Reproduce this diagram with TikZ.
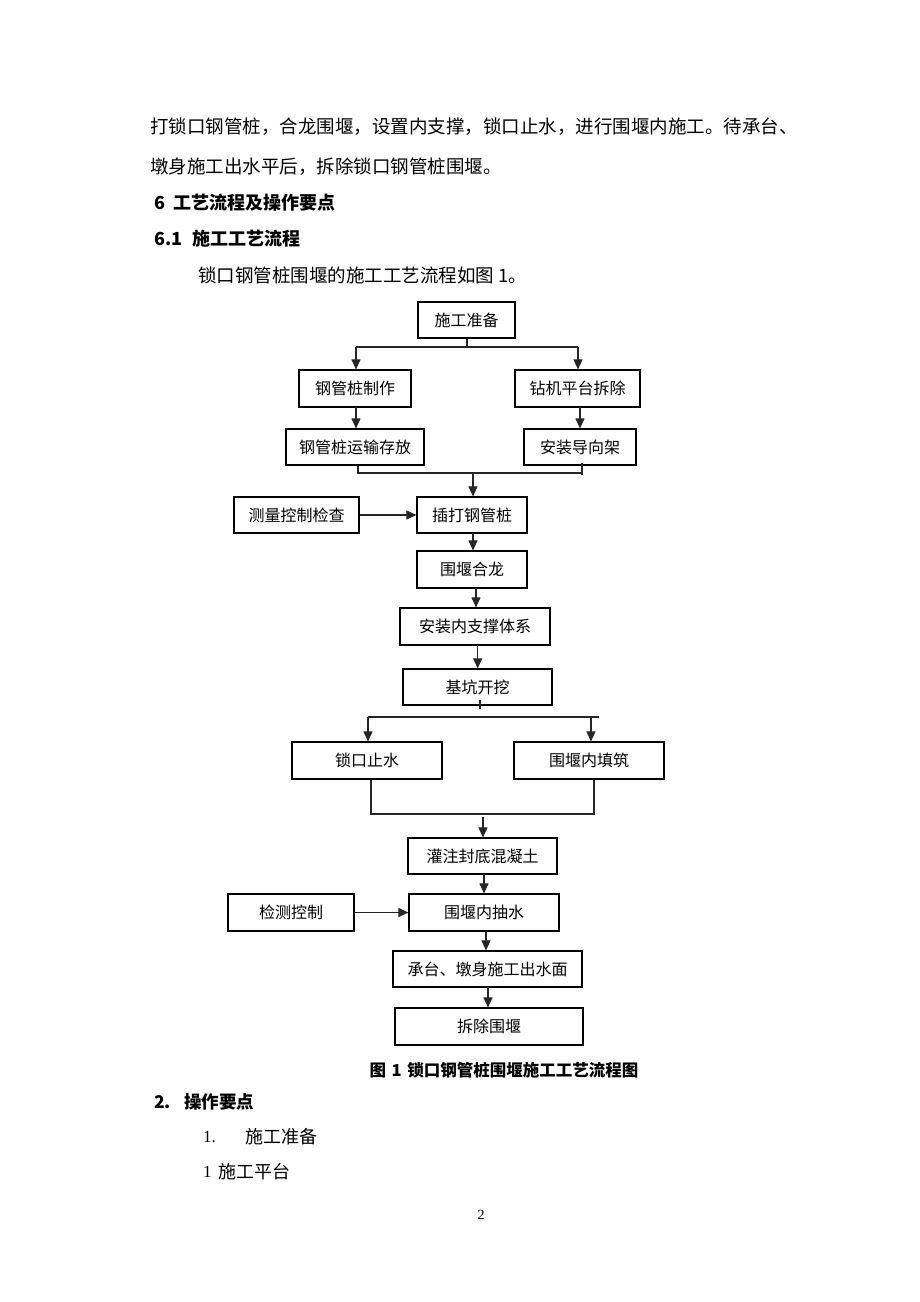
\documentclass[tikz,border=0pt]{standalone}
\usepackage{fontspec}
\setmainfont{Liberation Serif}
\newfontfamily\cjk{Noto Sans CJK SC}
\usetikzlibrary{arrows.meta}
\tikzset{
  box/.style={draw, line width=1.2pt, inner sep=0pt, font=\cjk\fontsize{16}{18}\selectfont},
  conn/.style={line width=1.1pt, draw=black!85},
  arr/.style={conn, -{Triangle[length=10pt,width=9pt]}},
  body/.style={anchor=west, inner sep=0pt, font=\cjk\fontsize{18.5}{20}\selectfont},
  head/.style={anchor=west, inner sep=0pt, font=\cjk\bfseries\fontsize{18}{20}\selectfont},
}
\begin{document}
\begin{tikzpicture}[x=1pt,y=-1pt]
\useasboundingbox[fill=white] (0,0) rectangle (920,1302);
% text above
\node[body] (l1) at (150,127) {打锁口钢管桩，合龙围堰，设置内支撑，锁口止水，进行围堰内施工。待承台、};
\node[body] (l2) at (150,167) {墩身施工出水平后，拆除锁口钢管桩围堰。};
\node[head] (h1n) at (154,203) {6};
\node[head] (h1) at (173,203) {工艺流程及操作要点};
\node[head] (h2n) at (154,239) {6.1};
\node[head] (h2) at (192,239) {施工工艺流程};
\node[body] (l3) at (198,275) {锁口钢管桩围堰的施工工艺流程如图 1。};
% boxes
\node[box, minimum width=97pt, minimum height=36pt] (prep) at (466.5,320) {施工准备};
\node[box, minimum width=112pt, minimum height=37pt] (make) at (355,388.5) {钢管桩制作};
\node[box, minimum width=125pt, minimum height=37pt] (drill) at (577.5,388.5) {钻机平台拆除};
\node[box, minimum width=138pt, minimum height=36pt] (trans) at (355,447) {钢管桩运输存放};
\node[box, minimum width=112pt, minimum height=36pt] (guide) at (580,447) {安装导向架};
\node[box, minimum width=110pt, minimum height=36pt] (drive) at (472,515) {插打钢管桩};
\node[box, minimum width=125pt, minimum height=36pt] (survey) at (296.5,515) {测量控制检查};
\node[box, minimum width=110pt, minimum height=37pt] (close) at (472,569.5) {围堰合龙};
\node[box, minimum width=150pt, minimum height=37pt] (brace) at (475,626.5) {安装内支撑体系};
\node[box, minimum width=149pt, minimum height=36pt] (excav) at (477.5,687) {基坑开挖};
\node[box, minimum width=150pt, minimum height=37pt] (seal) at (367,760.5) {锁口止水};
\node[box, minimum width=150pt, minimum height=37pt] (fill) at (589,760.5) {围堰内填筑};
\node[box, minimum width=149pt, minimum height=36pt] (pour) at (482.5,856) {灌注封底混凝土};
\node[box, minimum width=150pt, minimum height=37pt] (pump) at (484,912.5) {围堰内抽水};
\node[box, minimum width=126pt, minimum height=37pt] (check) at (291,912.5) {检测控制};
\node[box, minimum width=189pt, minimum height=36pt] (pier) at (487.5,969) {承台、墩身施工出水面};
\node[box, minimum width=188pt, minimum height=37pt] (remove) at (489,1026.5) {拆除围堰};
% connectors: top split
\coordinate (s1) at (467,347);
\coordinate (s1L) at (356,347);
\coordinate (s1R) at (578,347);
\draw[conn] (prep.south -| s1) -- (s1);
\draw[conn] (s1L) -- (s1R);
\draw[arr] (s1L) -- (s1L |- make.north);
\draw[arr] (s1R) -- (s1R |- drill.north);
\coordinate (m1) at (356,407);
\draw[arr] (m1) -- (m1 |- trans.north);
\coordinate (d1) at (580,407);
\draw[arr] (d1) -- (d1 |- guide.north);
% join to drive
\coordinate (jL) at (358,473);
\coordinate (jR) at (582,473);
\coordinate (jRt) at (582,463);
\coordinate (jRb) at (582,475);
\coordinate (jM) at (473,473);
\draw[conn] (trans.south -| jL) -- (jL) -- (jR);
\draw[conn] (jRt) -- (jRb);
\draw[arr] (jM) -- (jM |- drive.north);
\draw[arr] (survey.east) -- (drive.west);
\coordinate (a1) at (473,533);
\draw[arr] (a1) -- (a1 |- close.north);
\coordinate (a2) at (476,588);
\draw[arr] (a2) -- (a2 |- brace.north);
\coordinate (a3) at (477.7,645);
\draw[arr] (a3) -- (a3 |- excav.north);
% lower split
\coordinate (t1) at (480,700);
\coordinate (t2) at (480,709);
\draw[conn] (t1) -- (t2);
\coordinate (s2L) at (368,717);
\coordinate (s2R) at (599,717);
\coordinate (s2r) at (591,717);
\draw[conn] (s2L) -- (s2R);
\draw[arr] (s2L) -- (s2L |- seal.north);
\draw[arr] (s2r) -- (s2r |- fill.north);
% lower join
\coordinate (k1) at (371,814);
\coordinate (k2) at (594,814);
\draw[conn] (seal.south -| k1) -- (k1) -- (k2) -- (fill.south -| k2);
\coordinate (k3) at (483,817);
\draw[arr] (k3) -- (k3 |- pour.north);
\coordinate (a4) at (484,874);
\draw[arr] (a4) -- (a4 |- pump.north);
\draw[arr] (check.east) -- (pump.west);
\coordinate (a5) at (486,931);
\draw[arr] (a5) -- (a5 |- pier.north);
\coordinate (a6) at (488,987);
\draw[arr] (a6) -- (a6 |- remove.north);
% caption and text below
\node[inner sep=0pt, font=\cjk\bfseries\fontsize{16.5}{18}\selectfont] (cap) at (504,1070) {图\,\,1\,\,锁口钢管桩围堰施工工艺流程图};
\node[head, font=\cjk\bfseries\fontsize{17.5}{19}\selectfont] (p2) at (154,1102) {2.};
\node[head, font=\cjk\bfseries\fontsize{17.5}{19}\selectfont] (p2t) at (184,1102) {操作要点};
\node[anchor=west, inner sep=0pt, font=\fontsize{17}{19}\selectfont] (p1) at (203,1137) {1.};
\node[body, font=\cjk\fontsize{18}{20}\selectfont] (p1t) at (245,1137) {施工准备};
\node[anchor=west, inner sep=0pt, font=\fontsize{17}{19}\selectfont] (q1) at (203,1172) {1};
\node[body, font=\cjk\fontsize{18}{20}\selectfont] (q1t) at (218,1172) {施工平台};
\node[inner sep=0pt, font=\fontsize{14}{16}\selectfont] (pg) at (481,1215) {2};
\end{tikzpicture}
\end{document}
